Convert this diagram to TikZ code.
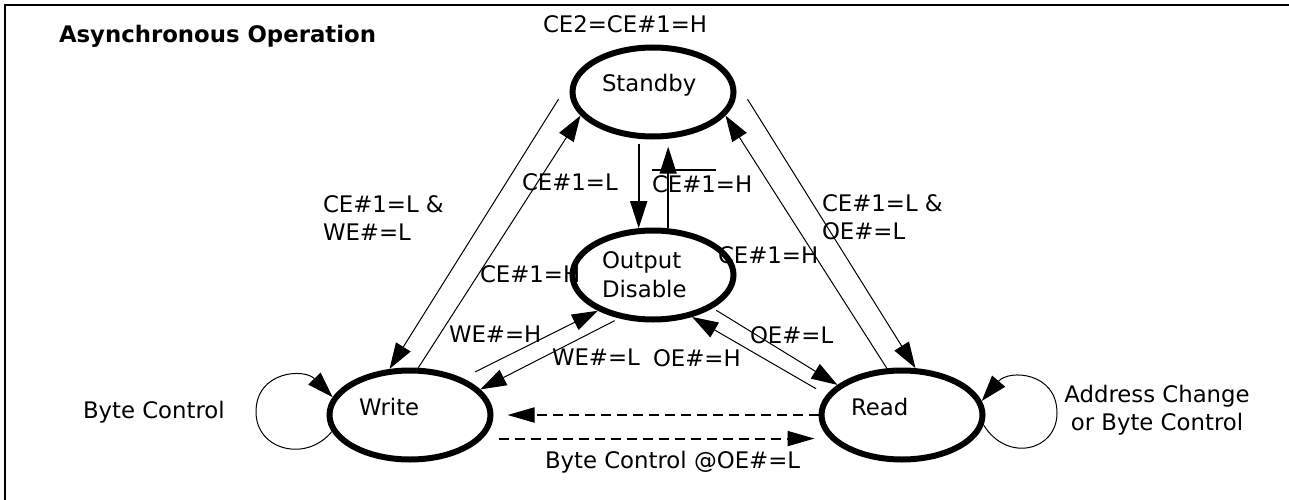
\documentclass[tikz,border=0pt]{standalone}
\usepackage{fontspec}
\setmainfont{DejaVu Sans}
\usetikzlibrary{shapes.geometric,arrows.meta}
\newcommand{\ovl}[1]{\vbox{\hrule height 1.3pt\kern 4.5pt\hbox{#1}}}
\begin{document}
\begin{tikzpicture}[x=1pt,y=-1pt,
  every node/.style={font=\fontsize{22.8pt}{28pt}\selectfont, inner sep=0pt, outer sep=0pt},
  lbl/.style={anchor=base west},
  mlbl/.style={anchor=base west, align=left},
  stateshape/.style={draw, ellipse, line width=6pt, minimum width=161pt, minimum height=89pt,
    inner sep=0pt, outer sep=3pt, text width=102pt, align=left},
  state/.style={stateshape, text height=10pt, text depth=10pt},
  conn/.style={line width=1pt, -{Triangle[length=26pt,width=17pt]}},
  vconn/.style={line width=1.6pt, -{Triangle[length=27pt,width=17pt]}},
  dconn/.style={line width=2pt, dash pattern=on 10pt off 6pt, -{Triangle[length=27pt,width=15pt]}}
]
\useasboundingbox (0,0) rectangle (1289,500);
\fill[white] (0,0) rectangle (1289,500);
\draw[line width=2.5pt] (5,500) -- (5,5) -- (1289,5);

% labels
\node[lbl, font=\fontsize{22.8pt}{28pt}\selectfont\bfseries] (title) at (59,43) {Asynchronous Operation};
\node[lbl] (lce2) at (543,33) {CE2=CE\#1=H};
\node[lbl] (lsdown) at (522,190) {CE\#1=L};
\node[lbl] (lsup) at (652,192) {\ovl{CE\#1}=H};
\node[mlbl] (lsw) at (323,240) {CE\#1=L \&\\WE\#=L};
\node[mlbl] (lsr) at (822,239) {CE\#1=L \&\\OE\#=L};
\node[lbl] (lws) at (480,282) {CE\#1=H};
\node[lbl] (lrs) at (718,263) {CE\#1=H};
\node[lbl] (lweh) at (449,342) {WE\#=H};
\node[lbl] (lwel) at (552,365) {WE\#=L};
\node[lbl] (loeh) at (653,366) {OE\#=H};
\node[lbl] (loel) at (750,343) {OE\#=L};
\node[lbl] (lbc) at (545,468) {Byte Control @OE\#=L};
\node[lbl] (lbyte) at (83,418) {Byte Control};
\node[align=center, anchor=base] (laddr) at (1157,430) {Address Change\\or Byte Control};

% states
\node[state] (standby) at (653,92) {Standby};
\node[stateshape, font=\fontsize{22.8pt}{29pt}\selectfont] (od) at (653,275) {Output\\Disable};
\node[state] (write) at (410,415) {Write};
\node[state] (read) at (902,415) {Read};

% loop way points
\coordinate (wloop) at (256,412);
\coordinate (rloop) at (1057,413);

% standby <-> output disable
\draw[vconn, shorten <=5pt] (standby.253) -- (od.107);
\draw[vconn, shorten >=8pt] (od.72) -- (standby.288);

% standby <-> write
\draw[conn] ([xshift=-12pt]standby.185) -- (write.114);
\draw[conn] (write.80) -- (standby.198);

% standby <-> read
\draw[conn] ([xshift=12pt]standby.355) -- (read.74);
\draw[conn] (read.108) -- (standby.342);

% write <-> output disable
\draw[conn, shorten <=14pt] (write.35) -- (od.213);
\draw[conn, shorten <=5pt] (od.232) -- (write.20);

% read <-> output disable
\draw[conn, shorten <=4pt] (od.331) -- (read.155);
\draw[conn, shorten <=12pt] (read.165) -- (od.313);

% write <-> read (byte control)
\draw[dconn, shorten >=14pt] (read.180) -- (write.0);
\draw[dconn, shorten <=16pt, shorten >=15pt] (write.342) -- (read.198);

% self loops
\draw[conn] (write.192) .. controls (306,463) and (256,450) .. (wloop)
  .. controls (256,371) and (304,368) .. (write.167);
\draw[conn] (read.353) .. controls (1007,463) and (1057,451) .. (rloop)
  .. controls (1057,372) and (1009,369) .. (read.10);
\end{tikzpicture}
\end{document}
